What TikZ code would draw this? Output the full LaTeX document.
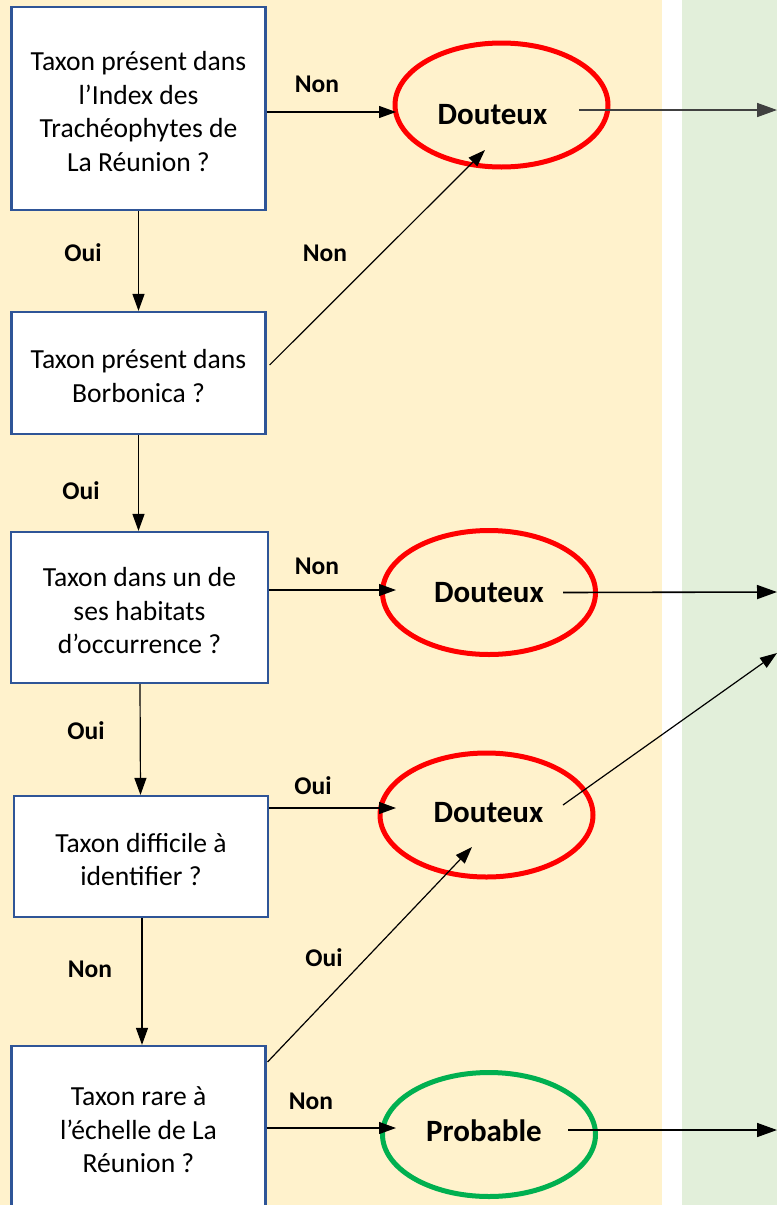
\documentclass[tikz,border=0pt]{standalone}
\usepackage{fontspec}
\setmainfont{Carlito}
\usetikzlibrary{arrows.meta,shapes.geometric}
\definecolor{bgY}{HTML}{FFF2CC}
\definecolor{bgG}{HTML}{E2EFDA}
\definecolor{boxB}{HTML}{2F5597}
\definecolor{okG}{HTML}{00B050}
\newcommand\tstr{\rule{0pt}{25.5pt}}
\begin{document}
\begin{tikzpicture}[x=1pt,y=-1pt,
  qbox/.style={draw=boxB,line width=2.2pt,fill=white,align=center,inner sep=0pt,
    font=\fontsize{27.6}{33.5}\selectfont},
  verd/.style={ellipse,draw=red,line width=5pt,inner sep=0pt,
    minimum width=213pt,minimum height=124pt},
  vtext/.style={font=\bfseries\fontsize{31}{36}\selectfont,inner sep=0pt},
  lab/.style={font=\bfseries\fontsize{25.5}{30}\selectfont,inner sep=0pt},
  arr/.style={-{Triangle[length=17pt,width=12pt]},line width=1.2pt},
  outarr/.style={-{Triangle[length=20pt,width=14pt]},line width=1.6pt}]
\clip (0,0) rectangle (777,1205);
\useasboundingbox (0,0) rectangle (777,1205);
\fill[bgY] (0,0) rectangle (662,1205);
\fill[bgG] (682,0) rectangle (777,1205);

% question boxes
\node[qbox,minimum width=254pt,minimum height=203pt] (B1) at (138.5,108.5)
  {\tstr Taxon présent dans\\l’Index des\\Trachéophytes de\\La Réunion ?};
\node[qbox,minimum width=254pt,minimum height=122pt] (B2) at (138.5,373)
  {\tstr Taxon présent dans\\Borbonica ?};
\node[qbox,minimum width=257pt,minimum height=151pt] (B3) at (139.5,607.5)
  {\tstr Taxon dans un de\\ses habitats\\d’occurrence ?};
\node[qbox,minimum width=254pt,minimum height=121pt] (B4) at (141,856.5)
  {\tstr Taxon difficile à\\identifier ?};
\node[qbox,minimum width=254pt,minimum height=168pt] (B5) at (138.5,1130)
  {Taxon rare à\\l’échelle de La\\Réunion ?};

% verdict ellipses
\node[verd,label={[vtext,xshift=-9pt,yshift=-10pt]center:Douteux}] (E1) at (501.5,105) {};
\node[verd,label={[vtext]center:Douteux}] (E2) at (489,592.5) {};
\node[verd,label={[vtext,xshift=2pt,yshift=2pt]center:Douteux}] (E3) at (486.5,815) {};
\node[verd,draw=okG,label={[vtext,xshift=-5pt,yshift=4pt]center:Probable}] (E4) at (489,1134.5) {};

% free ends
\coordinate (t1) at (396,112);
\coordinate (t1b) at (485,150);
\coordinate (t2) at (396,590);
\coordinate (t3) at (396,808);
\coordinate (t3b) at (472,847);
\coordinate (t4) at (396,1128);
\coordinate (o1) at (777,110);
\coordinate (o2) at (777,592);
\coordinate (o3) at (777,653);
\coordinate (o4) at (777,1130);

% vertical flow
\draw[arr] (B1.south) -- (B2.north);
\draw[arr] (B2.south) -- ([xshift=-1pt]B3.north);
\draw[arr] ([xshift=0.5pt]B3.south) -- ([xshift=-0.5pt]B4.north);
\draw[arr] ([xshift=1pt]B4.south) -- ([xshift=3.5pt]B5.north);

% to verdicts
\draw[arr] (B1.east |- t1) -- (t1);
\draw[arr] ([xshift=3pt,yshift=8pt]B2.east) -- (t1b);
\draw[arr] (B3.east |- t2) -- (t2);
\draw[arr] (B4.east |- t3) -- (t3);
\draw[arr] ([xshift=1pt,yshift=-17pt]B5.north east) -- (t3b);
\draw[arr] (B5.east |- t4) -- (t4);

% outgoing
\draw[outarr,draw=black!75,fill=black] ([xshift=77.5pt,yshift=-5pt]E1.center) -- (o1);
\draw[outarr] ([xshift=74pt]E2.center) -- (o2);
\draw[arr] ([xshift=76.5pt,yshift=10pt]E3.center) -- (o3);
\draw[outarr] ([xshift=79pt,yshift=4.5pt]E4.center) -- (o4);

% labels
\node[lab] (l1) at (317,84) {Non};
\node[lab] (l2) at (83,253) {Oui};
\node[lab] (l3) at (325,253) {Non};
\node[lab] (l4) at (81,491) {Oui};
\node[lab] (l5) at (317,566) {Non};
\node[lab] (l6) at (86,731) {Oui};
\node[lab] (l7) at (313,786) {Oui};
\node[lab] (l8) at (90,969) {Non};
\node[lab] (l9) at (324,958) {Oui};
\node[lab] (l10) at (311,1101) {Non};
\end{tikzpicture}
\end{document}
